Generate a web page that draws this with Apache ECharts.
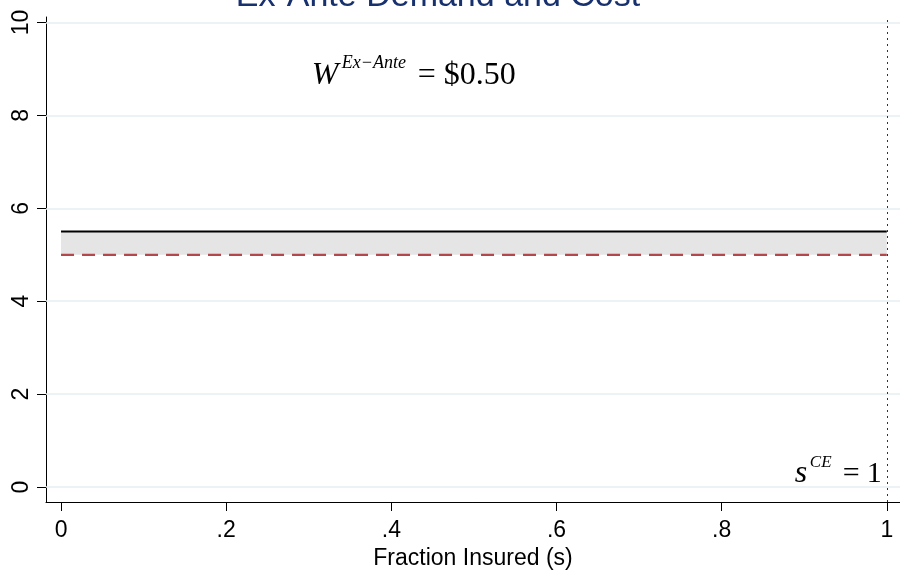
<!DOCTYPE html>
<html><head><meta charset="utf-8">
<script src="https://cdn.jsdelivr.net/npm/echarts@6/dist/echarts.min.js"></script>
<style>html,body{margin:0;padding:0;background:#fff}#c{width:900px;height:577px}</style>
</head><body><div id="c"></div>
<script>
// ---- data ----
const xVals = [0, 1];
const demand = [5.5, 5.5];
const cost = [5, 5];
const xTicks = [0, 0.2, 0.4, 0.6, 0.8, 1];
const xTickLabels = ['0', '.2', '.4', '.6', '.8', '1'];
const yTicks = [0, 2, 4, 6, 8, 10];
const yTickLabels = ['0', '2', '4', '6', '8', '10'];
const sCE = 1;
const welfareLabel = '$0.50';
const wAnchor = [0.3, 9];
const titleText = 'Ex-Ante Demand and Cost';
const xTitle = 'Fraction Insured (s)';

const demandData = xVals.map((x, i) => [x, demand[i]]);
const costData = xVals.map((x, i) => [x, cost[i]]);
const segData = [];
for (let i = 0; i < xVals.length - 1; i++) {
  segData.push([xVals[i], xVals[i + 1], cost[i], cost[i + 1], demand[i], demand[i + 1]]);
}

const SANS = '"Liberation Sans", Arial, Helvetica, sans-serif';
const SERIF = '"Liberation Serif", "Times New Roman", serif';

const chart = echarts.init(document.getElementById('c'), null, {renderer: 'canvas'});
const option = {
  animation: false,
  backgroundColor: '#ffffff',
  grid: {left: 46, right: 0, top: 17, bottom: 75, containLabel: false},
  xAxis: {
    type: 'value', min: -0.0182, max: 1.016,
    name: xTitle, nameLocation: 'middle', nameGap: 45,
    nameTextStyle: {fontFamily: SANS, fontSize: 23, color: '#000', verticalAlign: 'top'},
    axisLine: {show: true, onZero: false, lineStyle: {color: '#000', width: 1}},
    axisTick: {show: true, length: 9, customValues: xTicks, lineStyle: {color: '#000', width: 1}},
    axisLabel: {customValues: xTicks, margin: 17, fontFamily: SANS, fontSize: 23, color: '#000',
      formatter: v => { const i = xTicks.findIndex(t => Math.abs(t - v) < 1e-9); return i >= 0 ? xTickLabels[i] : ''; }},
    splitLine: {show: false}
  },
  yAxis: {
    type: 'value', min: -0.323, max: 10.12,
    axisLine: {show: true, onZero: false, lineStyle: {color: '#000', width: 1}},
    axisTick: {show: true, length: 9, customValues: yTicks, lineStyle: {color: '#000', width: 1}},
    axisLabel: {customValues: yTicks, rotate: 90, margin: 13, fontFamily: SANS, fontSize: 23, color: '#000',
      formatter: v => { const i = yTicks.findIndex(t => Math.abs(t - v) < 1e-9); return i >= 0 ? yTickLabels[i] : ''; }},
    splitLine: {show: false}
  },
  series: [
    {
      name: 'grid', type: 'line', data: [], silent: true,
      markLine: {silent: true, symbol: 'none', label: {show: false},
        lineStyle: {color: '#e4eff0', width: 1.5, type: 'solid'},
        data: yTicks.map(v => ({yAxis: v}))}
    },
    {
      name: 'band', type: 'custom', data: segData, silent: true,
      encode: {x: [0, 1], y: [2, 3, 4, 5]},
      renderItem: (params, api) => {
        const a = api.coord([api.value(0), api.value(2)]);
        const b = api.coord([api.value(1), api.value(3)]);
        const c = api.coord([api.value(1), api.value(5)]);
        const d = api.coord([api.value(0), api.value(4)]);
        return {type: 'polygon', shape: {points: [a, b, c, d]}, style: {fill: '#e5e5e5'}};
      }
    },
    {
      name: 'Cost', type: 'line', data: costData, symbol: 'none',
      lineStyle: {color: '#b3474b', width: 2.2, type: [13, 8]}
    },
    {
      name: 'Demand', type: 'line', data: demandData, symbol: 'none',
      lineStyle: {color: '#000000', width: 2},
      markLine: {silent: true, symbol: 'none', label: {show: false},
        lineStyle: {color: '#333', width: 1, type: [2, 4]},
        data: [{xAxis: sCE}]}
    }
  ]
};
chart.setOption(option);

const wp = chart.convertToPixel({gridIndex: 0}, wAnchor);
const sp = chart.convertToPixel({gridIndex: 0}, [sCE, 0]);
function txt(x, baseline, text, fs, family, italic, color, align) {
  return {type: 'text', x: x, y: baseline - 0.33 * fs,
    style: {text: text, font: (italic ? 'italic ' : '') + fs + 'px ' + family,
      fill: color || '#000', align: align || 'left', verticalAlign: 'middle'}};
}
chart.setOption({
  graphic: [
    txt(438, 8, titleText, 34, SANS, false, '#17306e', 'center'),
    {type: 'group', x: wp[0], y: wp[1], children: [
      txt(3, 17, 'W', 32, SERIF, true),
      txt(33, 0, 'Ex\u2212Ante', 18, SERIF, true),
      txt(109, 17, '=', 32, SERIF, false),
      txt(135, 17, welfareLabel, 32, SERIF, false)
    ]},
    {type: 'group', x: sp[0], y: sp[1], children: [
      txt(-92, -3, 's', 32, SERIF, true),
      txt(-77, -19, 'CE', 17, SERIF, true),
      txt(-44, -3, '=', 30, SERIF, false),
      txt(-20, -3, String(sCE), 30, SERIF, false)
    ]}
  ]
});
</script>
</body></html>
